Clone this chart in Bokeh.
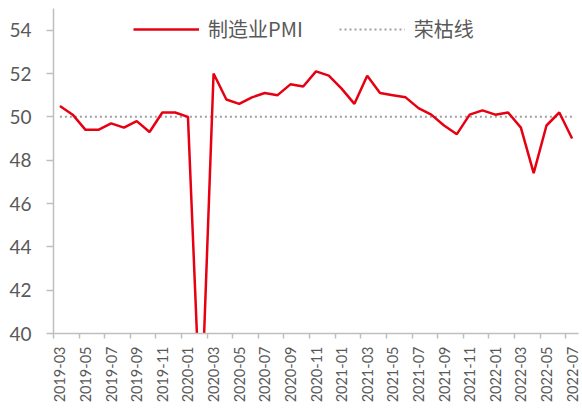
from bokeh.plotting import figure
from bokeh.models import FixedTicker, Range1d, Legend, LegendItem, ColumnDataSource
from bokeh.embed import file_html
from bokeh.resources import INLINE

months = ["2019-03","2019-04","2019-05","2019-06","2019-07","2019-08","2019-09","2019-10","2019-11","2019-12",
          "2020-01","2020-02","2020-03","2020-04","2020-05","2020-06","2020-07","2020-08","2020-09","2020-10",
          "2020-11","2020-12","2021-01","2021-02","2021-03","2021-04","2021-05","2021-06","2021-07","2021-08",
          "2021-09","2021-10","2021-11","2021-12","2022-01","2022-02","2022-03","2022-04","2022-05","2022-06",
          "2022-07"]
pmi = [50.5,50.1,49.4,49.4,49.7,49.5,49.8,49.3,50.2,50.2,
       50.0,35.7,52.0,50.8,50.6,50.9,51.1,51.0,51.5,51.4,
       52.1,51.9,51.3,50.6,51.9,51.1,51.0,50.9,50.4,50.1,
       49.6,49.2,50.1,50.3,50.1,50.2,49.5,47.4,49.6,50.2,
       49.0]
threshold = [50.0] * len(months)
y_ticks = [40, 42, 44, 46, 48, 50, 52, 54]

idx = list(range(len(months)))
src = ColumnDataSource(dict(x=idx, pmi=pmi, thr=threshold))

p = figure(width=582, height=410, output_backend="svg", toolbar_location=None,
           x_range=Range1d(-0.5, len(months) - 0.5), y_range=Range1d(40, 55),
           min_border_left=53, min_border_right=4, min_border_top=8, min_border_bottom=77)
p.outline_line_color = None
p.grid.grid_line_color = None
p.background_fill_color = "white"
p.border_fill_color = "white"

r_thr = p.line("x", "thr", source=src, line_color="#a0a0a0", line_width=2, line_dash="2 3")
r_pmi = p.line("x", "pmi", source=src, line_color="#e60012", line_width=2.5)

axis_color = "#bfbfbf"
label_color = "#595959"

# y axis
p.yaxis.ticker = FixedTicker(ticks=y_ticks)
p.yaxis.axis_line_color = axis_color
p.yaxis.axis_line_width = 1.5
p.yaxis.major_tick_line_color = axis_color
p.yaxis.major_tick_line_width = 1.5
p.yaxis.major_tick_out = 7
p.yaxis.major_tick_in = 0
p.yaxis.minor_tick_line_color = None
p.yaxis.major_label_text_font = "Lato"
p.yaxis.major_label_text_font_size = "19px"
p.yaxis.major_label_text_color = label_color
p.yaxis.major_label_standoff = 15

# x axis
label_pos = idx[::2]
p.xaxis.ticker = FixedTicker(ticks=label_pos, minor_ticks=[i - 0.5 for i in range(0, len(months) + 1, 2)])
p.xaxis.major_label_overrides = {i: months[i] for i in label_pos}
p.xaxis.axis_line_color = axis_color
p.xaxis.axis_line_width = 1.5
p.xaxis.major_tick_line_color = None
p.xaxis.minor_tick_line_color = axis_color
p.xaxis.minor_tick_line_width = 1.5
p.xaxis.minor_tick_out = 5
p.xaxis.minor_tick_in = 0
p.xaxis.major_label_orientation = 1.5708
p.xaxis.major_label_text_font = "Lato"
p.xaxis.major_label_text_font_size = "14.5px"
p.xaxis.major_label_text_color = label_color
p.xaxis.major_label_standoff = 7

legend = Legend(items=[LegendItem(label="制造业PMI", renderers=[r_pmi]),
                       LegendItem(label="荣枯线", renderers=[r_thr])],
                orientation="horizontal", location=(80, 290))
legend.background_fill_alpha = 0
legend.border_line_color = None
legend.label_text_font = "Noto Sans CJK SC"
legend.label_text_font_size = "20px"
legend.label_text_color = label_color
legend.glyph_width = 66
legend.label_standoff = 9
legend.spacing = 36
legend.padding = 0
legend.margin = 0
p.add_layout(legend, "center")

open("out.html", "w").write(file_html(p, INLINE))
